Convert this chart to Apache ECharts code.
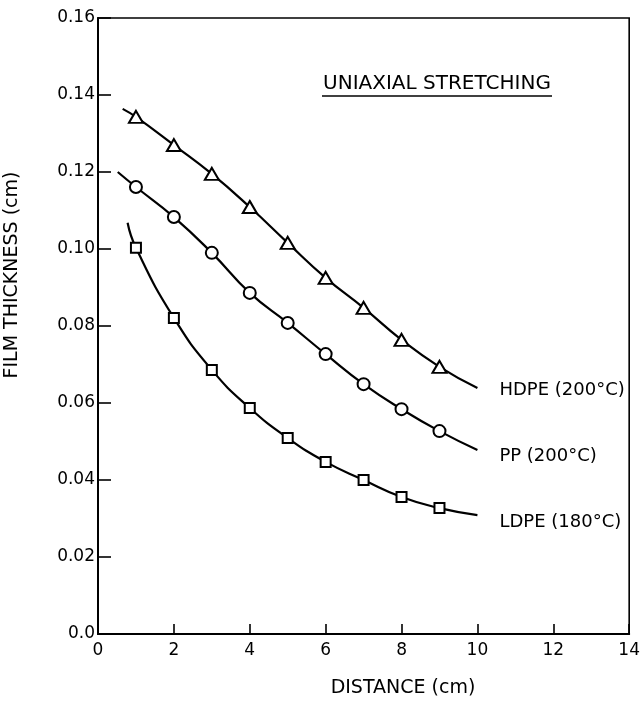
<!DOCTYPE html>
<html>
<head>
<meta charset="utf-8">
<script src="https://cdn.jsdelivr.net/npm/echarts/dist/echarts.min.js"></script>
<style>
  html, body { margin: 0; padding: 0; background: #fff; }
  #chart { width: 643px; height: 701px; }
</style>
</head>
<body>
<div id="chart"></div>
<script>
// ---- data ----
const distances = [1, 2, 3, 4, 5, 6, 7, 8, 9];
const hdpeValues = [0.1343, 0.1270, 0.1195, 0.1109, 0.1016, 0.0925, 0.0847, 0.0764, 0.0694];
const ppValues   = [0.1161, 0.1083, 0.0990, 0.0886, 0.0808, 0.0727, 0.0649, 0.0584, 0.0527];
const ldpeValues = [0.1003, 0.0821, 0.0686, 0.0587, 0.0509, 0.0447, 0.0400, 0.0356, 0.0327];
// fitted curve ends (start x, start y, end x, end y)
const hdpeCurveStart = [0.65, 0.1364], hdpeCurveEnd = [10, 0.0639];
const ppCurveStart   = [0.52, 0.1200], ppCurveEnd   = [10, 0.0478];
const ldpeCurveStart = [0.78, 0.1068], ldpeCurveEnd = [10, 0.0309];
const seriesNames = ['HDPE (200°C)', 'PP (200°C)', 'LDPE (180°C)'];
const xTickLabels = ['0', '2', '4', '6', '8', '10', '12', '14'];
const yTickLabels = ['0.0', '0.02', '0.04', '0.06', '0.08', '0.10', '0.12', '0.14', '0.16'];
const xTitle = 'DISTANCE (cm)';
const yTitle = 'FILM THICKNESS (cm)';
const plotTitle = 'UNIAXIAL STRETCHING';

// ---- build ----
const pts = (vals) => distances.map((d, i) => [d, vals[i]]);
const curve = (start, vals, end) => [start].concat(pts(vals), [end]);

const FONT = 'DejaVu Sans';
const chart = echarts.init(document.getElementById('chart'), null, { renderer: 'canvas' });

function curveSeries(name, data, offsetY) {
  return {
    name: name, type: 'line', data: data, smooth: 0.5, showSymbol: false, symbol: 'none',
    lineStyle: { color: '#000', width: 2.2 }, silent: true, z: 2,
    endLabel: {
      show: true, formatter: name, color: '#000', fontFamily: FONT, fontSize: 18,
      distance: 22, offset: [0, offsetY]
    }
  };
}
function markerSeries(name, data, symbol, size) {
  return {
    name: name + ' pts', type: 'scatter', data: data, symbol: symbol, symbolSize: size,
    itemStyle: { color: '#fff', borderColor: '#000', borderWidth: 2, opacity: 1 }, z: 3, silent: true
  };
}

const option = {
  backgroundColor: '#fff',
  animation: false,
  grid: { left: 98, top: 18, right: 8, bottom: 67, show: true, borderColor: '#000', borderWidth: 1.6, backgroundColor: 'transparent' },
  xAxis: {
    type: 'value', min: 0, max: 14, interval: 2,
    axisLine: { show: true, lineStyle: { color: '#000', width: 2 } },
    axisTick: { show: true, inside: true, length: 10, lineStyle: { color: '#000', width: 1.6 } },
    axisLabel: { color: '#000', fontFamily: FONT, fontSize: 17, margin: 8,
      formatter: (v) => xTickLabels[Math.round(v / 2)] },
    splitLine: { show: false }
  },
  yAxis: {
    type: 'value', min: 0, max: 0.16, interval: 0.02,
    axisLine: { show: true, lineStyle: { color: '#000', width: 2 } },
    axisTick: { show: true, inside: true, length: 13, lineStyle: { color: '#000', width: 1.6 } },
    axisLabel: { color: '#000', fontFamily: FONT, fontSize: 17, margin: 3,
      formatter: (v) => yTickLabels[Math.round(v / 0.02)] },
    splitLine: { show: false }
  },
  graphic: [
    { type: 'text', x: 403, y: 688, style: { text: xTitle, fill: '#000', font: '19px "DejaVu Sans"', textAlign: 'center', textVerticalAlign: 'middle' } },
    { type: 'text', x: 12, y: 275, rotation: Math.PI / 2, style: { text: yTitle, fill: '#000', font: '19px "DejaVu Sans"', textAlign: 'center', textVerticalAlign: 'middle' } },
    { type: 'text', x: 437, y: 84, style: { text: plotTitle, fill: '#000', font: '20px "DejaVu Sans"', textAlign: 'center', textVerticalAlign: 'middle' } },
    { type: 'line', shape: { x1: 322, y1: 96, x2: 552, y2: 96 }, style: { stroke: '#000', lineWidth: 1.6 } }
  ],
  series: [
    curveSeries(seriesNames[0], curve(hdpeCurveStart, hdpeValues, hdpeCurveEnd), 2),
    curveSeries(seriesNames[1], curve(ppCurveStart, ppValues, ppCurveEnd), 6),
    curveSeries(seriesNames[2], curve(ldpeCurveStart, ldpeValues, ldpeCurveEnd), 7),
    markerSeries(seriesNames[0], pts(hdpeValues), 'triangle', [14, 12]),
    markerSeries(seriesNames[1], pts(ppValues), 'circle', 12),
    markerSeries(seriesNames[2], pts(ldpeValues), 'rect', 10)
  ]
};
chart.setOption(option);
</script>
</body>
</html>
